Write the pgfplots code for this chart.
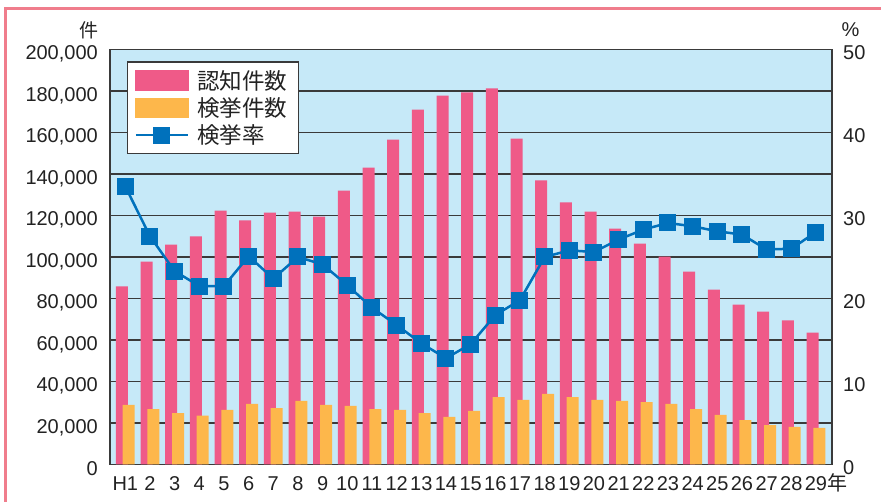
\documentclass[border=0pt]{standalone}
\usepackage{pgfplots}
\pgfplotsset{compat=1.18}
\usepackage{fontspec}
\setmainfont{Liberation Sans}
\newfontfamily\jp{Noto Sans CJK JP}
\definecolor{pinkc}{HTML}{EF5A88}
\definecolor{orangec}{HTML}{FDB74B}
\definecolor{bluec}{HTML}{0071BC}
\definecolor{bgc}{HTML}{C6E9F8}
\definecolor{framec}{HTML}{3A3A3A}
\definecolor{borderc}{HTML}{F07D8C}
\definecolor{textc}{HTML}{222222}
\pgfplotstableread{
x  ninchi kenkyo
0  85800  28700
1  97800  26700
2  106000 24800
3  109900 23500
4  122400 26300
5  117600 29200
6  121400 27200
7  121900 30600
8  119500 28700
9  132000 28200
10 143100 26700
11 156600 26300
12 171000 24800
13 177800 22900
14 179300 25800
15 181200 32500
16 157100 31100
17 136900 34000
18 126300 32500
19 121900 31100
20 113700 30600
21 106500 30100
22 100200 29200
23 93000  26700
24 84300  23900
25 77100  21400
26 73700  19000
27 69400  18100
28 63600  17600
}\counts
\pgfplotstableread{
x  rate
0  33.5
1  27.5
2  23.3
3  21.5
4  21.5
5  25.1
6  22.4
7  25.0
8  24.1
9  21.6
10 18.9
11 16.8
12 14.6
13 12.8
14 14.5
15 18.0
16 19.8
17 25.0
18 25.8
19 25.6
20 27.1
21 28.3
22 29.1
23 28.7
24 28.1
25 27.7
26 25.9
27 26.0
28 28.0
}\rates
\pgfplotsset{
  base/.style={
    scale only axis, width=722bp, height=415bp,
    at={(110bp,37.5bp)}, anchor=south west,
    xmin=-0.62, xmax=28.65,
    /pgf/number format/assume math mode=true,
    tick label style={font=\fontsize{20bp}{24bp}\selectfont, text=textc},
    major tick length=0pt,
  },
  lineleg/.style={legend image code/.code={\draw[##1, mark repeat=2, mark phase=2] plot coordinates {(0bp,0bp) (26bp,0bp) (52bp,0bp)};}},
}
\begin{document}
\begin{tikzpicture}[x=1bp,y=1bp]
\useasboundingbox (0,0) rectangle (881,502);
\draw[borderc, line width=3bp] (5.3,0) -- (5.3,493.5) -- (881,493.5);
\begin{axis}[base,
  ymin=0, ymax=200000,
  ytick={0,20000,...,200000},
  scaled y ticks=false,
  /pgf/number format/fixed,
  /pgf/number format/1000 sep={,},
  yticklabel style={anchor=east, inner sep=0pt, xshift=-12bp, yshift=-4.5bp},
  xtick={0,...,28},
  xticklabels={H1,2,3,4,5,6,7,8,9,10,11,12,13,14,15,16,17,18,19,20,21,22,23,24,25,26,27,28,29\rlap{\jp 年}},
  xticklabel style={anchor=north, inner sep=0pt, yshift=-12bp, text height=14bp, text depth=0pt},
  axis background/.style={fill=bgc},
  ymajorgrids, grid style={framec, line width=1.3bp},
  axis line style={framec, line width=1.5bp},
]
\addplot[ybar, bar width=12bp, bar shift=-3.4bp, fill=pinkc, draw=none] table[x=x,y=ninchi]{\counts};
\addplot[ybar, bar width=12bp, bar shift=3.4bp, fill=orangec, draw=none] table[x=x,y=kenkyo]{\counts};
\end{axis}
\begin{axis}[base,
  ymin=0, ymax=50,
  ytick={0,10,...,50},
  axis y line*=right, axis x line=none,
  y axis line style={draw=none},
  yticklabel style={anchor=west, inner sep=0pt, xshift=11bp, yshift=-3bp},
  legend style={at={(rel axis cs:0,1)}, anchor=north west, xshift=17bp, yshift=-12bp,
    draw=framec, line width=1.3bp, fill=white,
    inner xsep=7bp, inner ysep=7bp, row sep=5bp, column sep=4bp,
    font=\jp\fontsize{22.5bp}{25bp}\selectfont, text=textc,
    nodes={inner ysep=1bp, inner xsep=4bp},
    cells={anchor=west}},
]
\addlegendimage{legend image code/.code={\fill[pinkc] (0bp,-9.5bp) rectangle (52bp,9.5bp);}}
\addlegendentry{認知件数}
\addlegendimage{legend image code/.code={\fill[orangec] (0bp,-9.5bp) rectangle (52bp,9.5bp);}}
\addlegendentry{検挙件数}
\addplot[bluec, line width=2.5bp, mark=square*, mark size=8bp, mark options={fill=bluec, draw=none, line width=0pt}, lineleg]
  table[x=x,y=rate]{\rates};
\addlegendentry{検挙率}
\end{axis}
\node[text=textc, font=\jp\fontsize{19bp}{22bp}\selectfont] at (88.5,472) {件};
\node[text=textc, font=\fontsize{20bp}{22bp}\selectfont] at (850.5,472) {\%};
\end{tikzpicture}
\end{document}
